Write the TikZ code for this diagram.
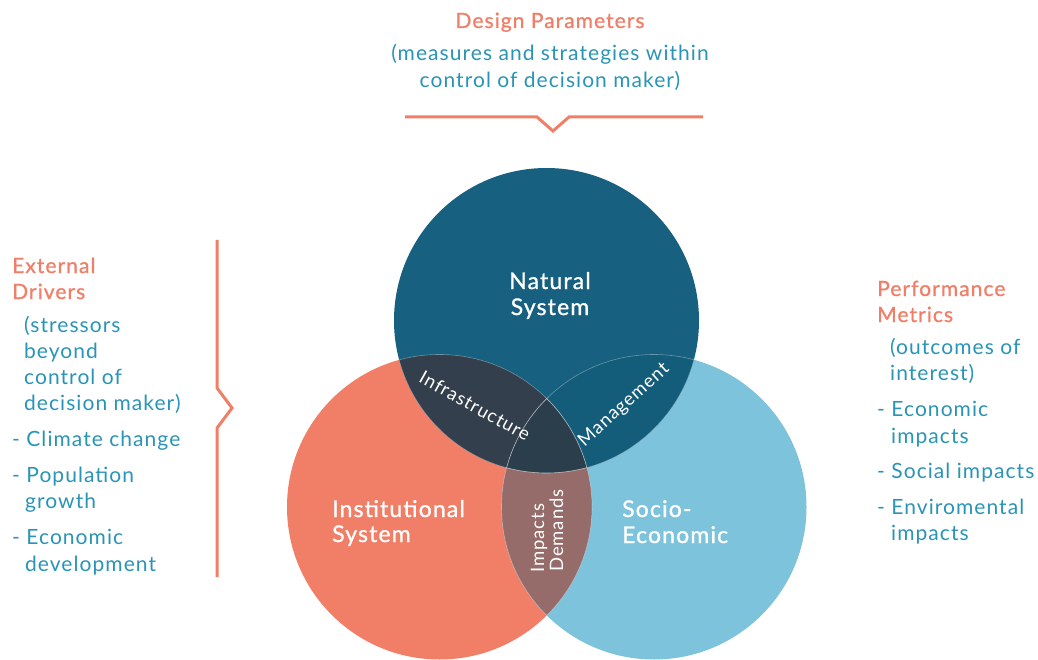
\documentclass[tikz,border=0pt]{standalone}
\usepackage{fontspec}
\setmainfont{Lato}[LetterSpace=5]
\newfontfamily\medfont{Lato}[LetterSpace=5,FakeBold=1]
\definecolor{natc}{HTML}{17607F}
\definecolor{instc}{HTML}{F17F68}
\definecolor{socc}{HTML}{7EC3DC}
\definecolor{nic}{HTML}{333F4C}
\definecolor{nsc}{HTML}{135C7A}
\definecolor{isc}{HTML}{966C6A}
\definecolor{allc}{HTML}{2A3E4C}
\definecolor{headc}{HTML}{F07F69}
\definecolor{bodyc}{HTML}{2994B6}
\tikzset{
  bodytxt/.style={anchor=base west, inner sep=0pt, text=bodyc, font=\fontsize{21}{26}\selectfont},
  headtxt/.style={anchor=base west, inner sep=0pt, text=headc, font=\medfont\fontsize{21}{26}\selectfont},
  circlbl/.style={anchor=base west, inner sep=0pt, text=white, font=\medfont\fontsize{23}{26}\selectfont},
  innerlbl/.style={inner sep=0pt, text=white, font=\fontsize{18.5}{20}\selectfont},
  bracket/.style={draw=headc, line width=3pt, line join=miter},
  edge/.style={draw=white, draw opacity=0.35, line width=0.6pt}
}
\begin{document}
\begin{tikzpicture}[x=1pt,y=-1pt]
\useasboundingbox (0,0) rectangle (1038,660);
% circle centres
\coordinate (nat) at (546.5,320.5);
\coordinate (ins) at (439.5,507);
\coordinate (soc) at (654,507);
\def\R{152.5pt}
% base circles
\fill[instc] (ins) circle[radius=\R];
\fill[socc] (soc) circle[radius=\R];
\fill[natc] (nat) circle[radius=\R];
% pairwise overlaps
\begin{scope}
  \clip (nat) circle[radius=\R];
  \fill[nic] (ins) circle[radius=\R];
  \fill[nsc] (soc) circle[radius=\R];
\end{scope}
\begin{scope}
  \clip (ins) circle[radius=\R];
  \fill[isc] (soc) circle[radius=\R];
  \clip (soc) circle[radius=\R];
  \fill[allc] (nat) circle[radius=\R];
\end{scope}
% faint edges inside overlaps
\begin{scope}
  \clip (nat) circle[radius=\R];
  \path[edge] (ins) circle[radius=\R];
  \path[edge] (soc) circle[radius=\R];
\end{scope}
\begin{scope}
  \clip (ins) circle[radius=\R];
  \path[edge] (nat) circle[radius=\R];
  \path[edge] (soc) circle[radius=\R];
\end{scope}
\begin{scope}
  \clip (soc) circle[radius=\R];
  \path[edge] (nat) circle[radius=\R];
  \path[edge] (ins) circle[radius=\R];
\end{scope}
% circle labels
\node[circlbl, anchor=base] (natl1) at (550,289) {Natural};
\node[circlbl, anchor=base] (natl2) at (550,315) {System};
\node[circlbl] (insl1) at (332,517) {Institutional};
\node[circlbl] (insl2) at (332,542) {System};
\node[circlbl] (socl1) at (622,517) {Socio-};
\node[circlbl] (socl2) at (622,543) {Economic};
% overlap labels
\node[innerlbl, rotate=-29] (infra) at (475,406) {Infrastructure};
\node[innerlbl, rotate=42] (mgmt) at (624,405) {Management};
\node[innerlbl, anchor=base west, rotate=90] (imp) at (544,573) {Impacts};
\node[innerlbl, anchor=base west, rotate=90] (dem) at (563,572) {Demands};
% top text
\node[headtxt, anchor=base] (dp1) at (550,28) {Design Parameters};
\node[bodytxt, anchor=base] (dp2) at (550,61) {(measures and strategies within};
\node[bodytxt, anchor=base] (dp3) at (550,88) {control of decision maker)};
% top bracket
\coordinate (tb1) at (405,117);
\coordinate (tb2) at (537,117);
\coordinate (tb3) at (553,131);
\coordinate (tb4) at (569,117);
\coordinate (tb5) at (703,117);
\draw[bracket] (tb1) -- (tb2) -- (tb3) -- (tb4) -- (tb5);
% left bracket
\coordinate (lb1) at (217,240);
\coordinate (lb2) at (217,388);
\coordinate (lb3) at (232,408);
\coordinate (lb4) at (217,428);
\coordinate (lb5) at (217,577);
\draw[bracket] (lb1) -- (lb2) -- (lb3) -- (lb4) -- (lb5);
% left text
\node[headtxt] (ed1) at (12,273) {External};
\node[headtxt] (ed2) at (12,299) {Drivers};
\node[bodytxt] (ed3) at (24,332) {(stressors};
\node[bodytxt] (ed4) at (24,358) {beyond};
\node[bodytxt] (ed5) at (24,384) {control of};
\node[bodytxt] (ed6) at (24,410) {decision maker)};
\node[bodytxt] (ed7) at (12,446) {- Climate change};
\node[bodytxt] (ed8) at (12,482) {- Population};
\node[bodytxt] (ed9) at (25,508) {growth};
\node[bodytxt] (ed10) at (12,544) {- Economic};
\node[bodytxt] (ed11) at (25,571) {development};
% right text
\node[headtxt] (pm1) at (877,296) {Performance};
\node[headtxt] (pm2) at (877,322) {Metrics};
\node[bodytxt] (pm3) at (890,354) {(outcomes of};
\node[bodytxt] (pm4) at (890,380) {interest)};
\node[bodytxt] (pm5) at (877,416) {- Economic};
\node[bodytxt] (pm6) at (891,443) {impacts};
\node[bodytxt] (pm7) at (877,478) {- Social impacts};
\node[bodytxt] (pm8) at (877,514) {- Enviromental};
\node[bodytxt] (pm9) at (891,540) {impacts};
\end{tikzpicture}
\end{document}
